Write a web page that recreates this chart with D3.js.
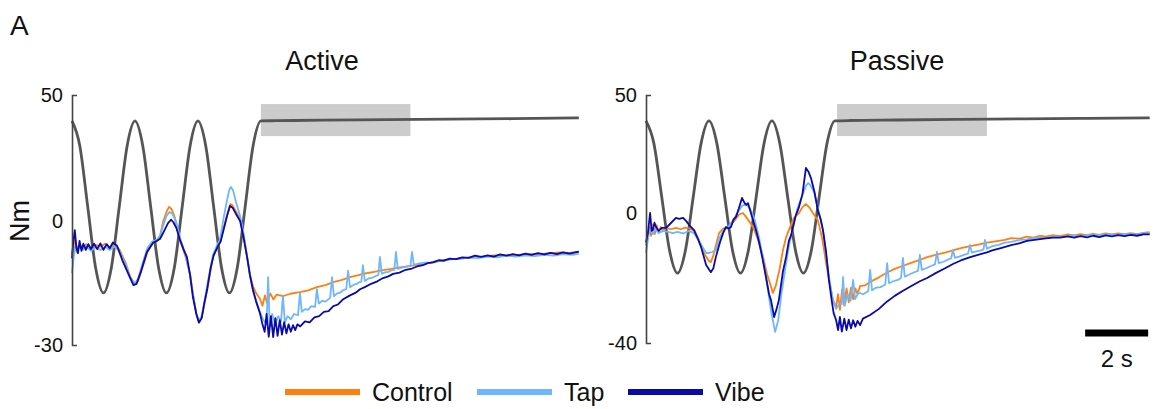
<!DOCTYPE html>
<html>
<head>
<meta charset="utf-8">
<script src="https://cdn.jsdelivr.net/npm/d3@7"></script>
<style>
  body { margin: 0; background: #fff; }
  svg text { font-family: "Liberation Sans", Arial, sans-serif; fill: #111; }
</style>
</head>
<body>
<div id="viz"></div>
<script>
const width = 1153;
const height = 409;

// series names and colours
const seriesNames = ["Control", "Tap", "Vibe"];
const seriesColors = { Control: "#ff800e", Tap: "#6fb6ff", Vibe: "#0a0aa8" };

// tick labels for each panel
const activeTicks = [50, 0, -30];
const passiveTicks = [50, 0, -40];

// shaded hold window [t0, t1, low, high]
const activeWindow = [6.0, 10.75, 33.7, 46.4];
const passiveWindow = [6.07, 10.83, 32.6, 46.2];

// reference (grey) trace, [time s, Nm]
const activeReference = [
  [0,39.7],[0.25,29.7],[0.5,5.6],[0.75,-11.3],[1,-17.4],[1.25,-11.3],[1.5,5.6],[1.75,29.7],
  [2,39.7],[2.25,29.7],[2.5,5.6],[2.75,-11.3],[3,-17.4],[3.25,-11.3],[3.5,5.6],[3.75,29.7],
  [4,39.7],[4.25,29.7],[4.5,5.6],[4.75,-11.3],[5,-17.4],[5.25,-11.3],[5.5,5.6],[5.75,29.7],
  [6,39.7],[6.5,39.8],[8,40],[10,40.2],[12,40.4],[14,40.6],[16.1,40.9]
];
const passiveReference = [
  [0,39.0],[0.25,29.5],[0.5,6.8],[0.75,-11.6],[1,-18.5],[1.25,-11.6],[1.5,6.8],[1.75,29.5],
  [2,39.0],[2.25,29.5],[2.5,6.8],[2.75,-11.6],[3,-18.5],[3.25,-11.6],[3.5,6.8],[3.75,29.5],
  [4,39.0],[4.25,29.5],[4.5,6.8],[4.75,-11.6],[5,-18.5],[5.25,-11.6],[5.5,6.8],[5.75,29.5],
  [6,39.0],[6.5,39.2],[8,39.4],[10,39.7],[12,39.9],[14,40.1],[16.0,40.3]
];

// Active torque traces
const activeControl = [
  [0,-8],[0.05,-6],[0.1,-4.5],[0.15,-6.5],[0.25,-5.8],[0.35,-6.6],[0.45,-5.6],[0.6,-6.4],[0.75,-5.8],
  [0.9,-6.2],[1.05,-5.5],[1.2,-6.4],[1.35,-5.8],[1.5,-6.8],[1.7,-10],[1.85,-13.5],[2.0,-15.3],[2.1,-14.5],
  [2.25,-11],[2.4,-7.5],[2.55,-5.5],[2.7,-4.8],[2.8,-3.5],[2.9,0],[3.0,3.5],[3.08,5.6],[3.15,5.0],
  [3.25,2],[3.35,-2],[3.45,-5],[3.6,-8.5],[3.75,-13],[3.85,-18],[3.95,-22.5],[4.03,-24.3],[4.12,-23.3],
  [4.22,-19.5],[4.32,-15.5],[4.48,-8.7],[4.6,-6.5],[4.7,-5.2],[4.82,-1.5],[4.95,3.5],[5.03,6.7],[5.1,6.2],
  [5.2,4],[5.34,0.8],[5.45,-3.5],[5.56,-8.5],[5.65,-13],[5.75,-15.8],[5.85,-17.5],[5.97,-18.8],[6.05,-20.5],
  [6.13,-18],[6.2,-20],[6.3,-17.5],[6.4,-19],[6.5,-17.8],[6.7,-18.2],[6.93,-17.6],[7.24,-17.2],[7.5,-16.8],
  [7.78,-16],[8.05,-15.5],[8.3,-14.8],[8.55,-14.3],[8.83,-13.6],[9.1,-13.1],[9.3,-12.7],[9.6,-12.3],
  [9.88,-11.9],[10.15,-11.6],[10.4,-11.2],[10.7,-10.9],[10.96,-10.6],[11.2,-10.3],[11.47,-10],[11.75,-9.6],
  [12.0,-9.3],[12.25,-9.1],[12.5,-8.9],[12.8,-8.8],[13.06,-8.6],[13.4,-8.3],[13.7,-8.4],[14.14,-8.2],
  [14.5,-8.0],[14.8,-8.1],[15.18,-7.8],[15.5,-7.6],[15.8,-7.7],[16.1,-7.4]
];
const activeTap = [
  [0,-12.6],[0.05,-9],[0.1,-6],[0.15,-7.5],[0.25,-6.2],[0.35,-7],[0.45,-6],[0.6,-7.2],[0.75,-6.3],
  [0.9,-7],[1.05,-6.2],[1.2,-7],[1.35,-6.2],[1.5,-7.2],[1.7,-10.5],[1.85,-13.8],[2.0,-15],[2.1,-14],
  [2.25,-10],[2.4,-6.5],[2.55,-5],[2.7,-4.5],[2.8,-3.5],[2.9,-1],[3.0,2],[3.1,3.6],[3.18,3.0],[3.3,0],
  [3.43,-4],[3.6,-8],[3.75,-13],[3.85,-18],[3.95,-22.5],[4.03,-24.2],[4.12,-23],[4.22,-19],[4.32,-14.5],
  [4.48,-8.2],[4.6,-6],[4.7,-4.5],[4.82,1.5],[4.92,8],[5.0,12.5],[5.05,13.5],[5.12,12],[5.22,7],[5.34,2],
  [5.45,-3],[5.56,-8.5],[5.65,-13],[5.75,-17],[5.85,-19.5],[5.97,-22],[6.05,-23.5],[6.13,-24.5],
  [6.18,-25],[6.23,-13.6],[6.28,-25.5],[6.36,-22.5],[6.45,-25],[6.55,-23],[6.64,-24.3],[6.7,-18],
  [6.76,-24.5],[6.85,-23],[6.95,-23.8],[7.05,-22.5],[7.18,-22.8],[7.24,-17.4],[7.3,-22],[7.4,-21.3],
  [7.5,-21.5],[7.6,-20.6],[7.72,-20.8],[7.78,-16.5],[7.84,-20],[7.95,-19.3],[8.05,-19.5],[8.2,-18.6],
  [8.26,-13.6],[8.32,-18.2],[8.42,-17.5],[8.52,-17.3],[8.62,-16.7],[8.71,-16.5],[8.77,-12],[8.83,-16],
  [8.95,-15.4],[9.05,-15.2],[9.12,-14.8],[9.19,-14.7],[9.24,-10.7],[9.3,-14.5],[9.42,-13.9],[9.55,-13.7],
  [9.65,-13.3],[9.73,-13.1],[9.78,-8.7],[9.84,-12.8],[9.95,-12.4],[10.05,-12.3],[10.15,-11.9],[10.24,-11.8],
  [10.29,-7.5],[10.35,-11.6],[10.5,-11.2],[10.62,-11.1],[10.75,-10.8],[10.8,-7.5],[10.86,-10.6],[11.0,-10.3],
  [11.2,-10.1],[11.4,-10],[11.6,-9.6],[11.8,-9.7],[12.0,-9.3],[12.3,-9.2],[12.6,-8.8],[12.9,-9.0],
  [13.2,-8.6],[13.5,-8.8],[13.8,-8.4],[14.1,-8.6],[14.4,-8.3],[14.7,-8.5],[15.0,-8.2],[15.3,-8.4],
  [15.6,-8.0],[15.9,-8.2],[16.1,-7.9]
];
const activeVibe = [
  [0,-9],[0.04,-5],[0.09,-2.2],[0.14,-6.5],[0.19,-7.8],[0.24,-4.8],[0.3,-7.2],[0.36,-5.5],[0.44,-7],
  [0.52,-5.6],[0.6,-6.8],[0.7,-5.5],[0.8,-6.8],[0.9,-5.4],[1.0,-7],[1.1,-5.6],[1.2,-6.6],[1.3,-5.2],
  [1.43,-6],[1.6,-9.5],[1.8,-13],[1.95,-15.5],[2.05,-15.2],[2.2,-12],[2.38,-7.5],[2.57,-5.3],[2.7,-4.8],
  [2.8,-4.3],[2.92,-2.5],[3.05,-0.5],[3.15,0.5],[3.22,-0.3],[3.32,-1.8],[3.43,-4.6],[3.55,-7],[3.65,-8.7],
  [3.75,-13],[3.84,-18.4],[3.95,-22.5],[4.03,-24.6],[4.12,-23.5],[4.2,-20],[4.29,-16.7],[4.4,-11.5],
  [4.5,-8.3],[4.62,-6.3],[4.72,-5],[4.82,-2],[4.92,1.8],[5.02,6.0],[5.1,5.3],[5.2,3],[5.34,0],[5.45,-4],
  [5.56,-8.7],[5.65,-13],[5.75,-16.7],[5.85,-19.5],[5.97,-22.3],[6.05,-25],[6.12,-26.8],[6.18,-22.5],
  [6.25,-28],[6.32,-23],[6.39,-28.1],[6.46,-23.5],[6.53,-27.8],[6.6,-24],[6.67,-27.5],[6.74,-24.5],
  [6.81,-27.2],[6.88,-25],[6.95,-26.8],[7.02,-25.2],[7.09,-26.4],[7.16,-25],[7.25,-25.5],[7.4,-24.3],
  [7.55,-24.5],[7.7,-23.3],[7.85,-23],[8.0,-22],[8.15,-21.8],[8.3,-20.6],[8.45,-20.2],[8.6,-19],
  [8.83,-18],[9.0,-17.4],[9.15,-16.5],[9.3,-16],[9.5,-15.2],[9.7,-14.6],[9.88,-13.8],[10.05,-13.4],
  [10.2,-12.8],[10.4,-12.5],[10.6,-11.8],[10.8,-11.5],[10.96,-11],[11.15,-10.7],[11.3,-10.2],[11.47,-10],
  [11.65,-9.5],[11.8,-9.6],[12.0,-9.1],[12.2,-9.2],[12.4,-8.8],[12.6,-8.9],[12.8,-8.4],[13.0,-8.7],
  [13.2,-8.3],[13.4,-8.6],[13.6,-8.1],[13.8,-8.4],[14.0,-8.0],[14.2,-8.3],[14.4,-7.9],[14.6,-8.2],
  [14.8,-7.8],[15.0,-8.1],[15.2,-7.7],[15.4,-8.0],[15.6,-7.6],[15.8,-7.9],[16.1,-7.4]
];

// Passive torque traces
const passiveControl = [
  [0,-10],[0.1,-4.3],[0.16,-7],[0.22,-3.5],[0.28,-6.5],[0.34,-3.8],[0.4,-6],[0.47,-4.3],[0.54,-5.5],
  [0.64,-4.6],[0.8,-5],[0.95,-4.6],[1.1,-5],[1.25,-4.5],[1.4,-4.8],[1.55,-5.5],[1.68,-8.3],[1.85,-12.5],
  [2.0,-14.8],[2.06,-15.1],[2.14,-13],[2.32,-6.2],[2.45,-4.8],[2.64,-4.3],[2.8,-2.5],[2.95,-0.5],[3.08,0],
  [3.2,-1.5],[3.4,-4.3],[3.55,-8],[3.72,-13.5],[3.85,-19],[3.95,-22],[4.03,-24.6],[4.12,-22.5],[4.25,-17],
  [4.35,-11.4],[4.45,-7.5],[4.54,-5.2],[4.7,-1.5],[4.86,0],[4.97,2.5],[5.08,3.8],[5.18,2.5],[5.3,0],
  [5.46,-2.2],[5.6,-8],[5.72,-15.4],[5.82,-21],[5.94,-26.8],[6.04,-28.9],[6.1,-25],[6.16,-29.8],
  [6.23,-23.5],[6.3,-28.5],[6.37,-23.2],[6.44,-27.5],[6.51,-23],[6.58,-26.5],[6.65,-23.2],[6.72,-25],
  [6.8,-22.5],[6.95,-22.3],[7.12,-21.2],[7.4,-19.8],[7.66,-18.3],[7.9,-17.2],[8.15,-16.3],[8.4,-15.4],
  [8.7,-14.4],[8.93,-13.6],[9.2,-12.9],[9.5,-12.2],[9.75,-11.5],[10.0,-10.8],[10.3,-10.2],[10.55,-9.7],
  [10.83,-9.1],[11.1,-8.7],[11.4,-8.3],[11.6,-7.7],[11.88,-7.9],[12.1,-7.3],[12.3,-7.6],[12.5,-7.0],
  [12.7,-7.3],[12.93,-6.8],[13.15,-7.1],[13.4,-6.6],[13.6,-6.9],[13.8,-6.5],[14.0,-6.8],[14.2,-6.4],
  [14.4,-6.7],[14.6,-6.3],[14.8,-6.6],[15.0,-6.3],[15.2,-6.5],[15.4,-6.2],[15.6,-6.5],[15.8,-6.1],[16.0,-5.9]
];
const passiveTap = [
  [0,-12.3],[0.08,-7],[0.15,-4.5],[0.22,-6.5],[0.3,-5],[0.4,-6.2],[0.54,-5.5],[0.7,-5.8],[0.85,-6.2],
  [1.0,-5.8],[1.18,-6.3],[1.37,-5.5],[1.52,-6.2],[1.68,-8.5],[1.8,-10.5],[1.91,-12.3],[2.0,-12.3],
  [2.1,-12],[2.22,-11.5],[2.32,-8],[2.45,-5.5],[2.6,-4.5],[2.75,-2.5],[2.9,0],[3.05,3],[3.18,3.8],[3.3,2],
  [3.45,-2],[3.59,-7.5],[3.72,-14],[3.85,-22],[3.97,-30],[4.1,-36.6],[4.2,-33],[4.3,-25],[4.45,-15.5],
  [4.54,-10],[4.65,-5.5],[4.8,1.5],[4.95,7],[5.08,11.5],[5.15,12.7],[5.22,11.8],[5.35,8.5],[5.46,2],
  [5.55,-2],[5.65,-7],[5.75,-15],[5.85,-22],[5.94,-27],[6.04,-29.5],[6.16,-27.7],[6.22,-28],[6.26,-19.7],
  [6.31,-28.5],[6.4,-25],[6.5,-27],[6.58,-20.6],[6.64,-26.5],[6.75,-24.5],[6.9,-25],[7.06,-24],[7.12,-17.5],
  [7.18,-23.8],[7.3,-23],[7.45,-22.8],[7.6,-22],[7.66,-15.4],[7.72,-21.6],[7.85,-21],[8.0,-20.6],[8.1,-20],
  [8.16,-13.8],[8.22,-19.6],[8.35,-19],[8.5,-18.3],[8.64,-17.8],[8.7,-12.9],[8.76,-17.5],[8.9,-17],
  [9.05,-16.3],[9.18,-15.8],[9.24,-12.0],[9.3,-15.4],[9.45,-15],[9.6,-14.3],[9.69,-14],[9.75,-11.4],
  [9.81,-13.8],[9.95,-13.4],[10.1,-12.9],[10.23,-12.5],[10.29,-9.8],[10.35,-12.2],[10.5,-11.8],
  [10.65,-11.5],[10.72,-11.2],[10.77,-8.3],[10.83,-11],[11.0,-10.2],[11.2,-9.8],[11.4,-9.1],[11.6,-8.9],
  [11.88,-8.3],[12.1,-8.1],[12.4,-7.6],[12.7,-7.7],[12.93,-7.2],[13.2,-7.4],[13.5,-6.9],[13.8,-7.1],
  [14.1,-6.7],[14.4,-6.9],[14.7,-6.5],[15.0,-6.7],[15.3,-6.4],[15.6,-6.6],[15.8,-6.3],[16.0,-6.2]
];
const passiveVibe = [
  [0,-9],[0.06,-6.2],[0.13,0],[0.18,-5.5],[0.22,-5.2],[0.27,-3],[0.32,-4.3],[0.4,-5.5],[0.5,-4.6],
  [0.64,-4.6],[0.8,-3],[0.95,-1.5],[1.05,-1.8],[1.18,-1.5],[1.28,-2.5],[1.37,-3.7],[1.52,-5.2],[1.65,-8],
  [1.75,-10.5],[1.91,-16],[2.06,-18.2],[2.14,-17],[2.22,-13.5],[2.35,-9],[2.45,-6.2],[2.54,-4.3],
  [2.62,-4.8],[2.70,-4.3],[2.78,-2],[2.86,-1.2],[2.95,2],[3.05,6.4],[3.12,4.5],[3.18,3.4],[3.24,4.2],
  [3.3,1.5],[3.40,-2.2],[3.5,-5.5],[3.59,-8.9],[3.7,-14],[3.81,-19.7],[3.91,-25],[3.97,-26.8],[4.07,-32],
  [4.15,-29.5],[4.22,-26.8],[4.35,-18],[4.45,-13.5],[4.54,-8.5],[4.61,-6.8],[4.75,-1],[4.86,2.5],
  [4.97,8],[5.08,19.1],[5.16,17.5],[5.24,14.8],[5.35,9],[5.46,1],[5.55,-2],[5.62,-5.2],[5.72,-12],
  [5.81,-20.6],[5.9,-27],[5.96,-30.8],[6.04,-33],[6.1,-36],[6.16,-32],[6.22,-36.5],[6.3,-32.5],
  [6.37,-36],[6.44,-32.8],[6.51,-35.5],[6.58,-33],[6.65,-35],[6.72,-33.2],[6.8,-34.5],[6.89,-32.5],
  [7.12,-31.4],[7.4,-29.5],[7.66,-27.2],[7.9,-25.5],[8.15,-24],[8.4,-22.6],[8.7,-21],[8.93,-20],
  [9.2,-18.5],[9.5,-17],[9.75,-15.7],[10.0,-14.6],[10.3,-13.6],[10.6,-12.7],[10.83,-12.1],[11.0,-11.5],
  [11.3,-10.7],[11.6,-9.9],[11.88,-9.3],[12.1,-8.6],[12.4,-8.2],[12.7,-7.8],[12.93,-7.6],[13.15,-7.6],
  [13.4,-7.2],[13.6,-7.6],[13.8,-7.1],[14.01,-7.5],[14.2,-7.0],[14.4,-7.4],[14.6,-6.9],[14.8,-7.2],
  [15.0,-6.8],[15.2,-7.1],[15.4,-6.7],[15.6,-7.0],[15.8,-6.6],[16.0,-6.6]
];

const panels = [
  {
    title: "Active", titleX: 322,
    x: d3.scaleLinear().domain([0, 16.2]).range([72, 582]),
    y: d3.scaleLinear().domain([-30, 0, 50]).range([345, 221, 95]),
    ticks: activeTicks, hold: activeWindow, reference: activeReference,
    traces: { Control: activeControl, Tap: activeTap, Vibe: activeVibe }
  },
  {
    title: "Passive", titleX: 897,
    x: d3.scaleLinear().domain([0, 16.2]).range([646, 1156]),
    y: d3.scaleLinear().domain([-40, 0, 50]).range([343, 213, 95]),
    ticks: passiveTicks, hold: passiveWindow, reference: passiveReference,
    traces: { Control: passiveControl, Tap: passiveTap, Vibe: passiveVibe }
  }
];

const svg = d3.select("#viz")
  .append("svg")
  .attr("width", width)
  .attr("height", height);

svg.append("text")
  .attr("x", 10).attr("y", 35)
  .style("font-size", "28px")
  .text("A");

svg.append("text")
  .attr("transform", "translate(29,221) rotate(-90)")
  .attr("text-anchor", "middle")
  .style("font-size", "27px")
  .text("Nm");

for (const p of panels) {
  const g = svg.append("g");

  g.append("text")
    .attr("x", p.titleX).attr("y", 70)
    .attr("text-anchor", "middle")
    .style("font-size", "27px")
    .text(p.title);

  // hold window
  g.append("rect")
    .attr("x", p.x(p.hold[0]))
    .attr("width", p.x(p.hold[1]) - p.x(p.hold[0]))
    .attr("y", p.y(p.hold[3]))
    .attr("height", p.y(p.hold[2]) - p.y(p.hold[3]))
    .attr("fill", "#cccccc");

  const line = d3.line()
    .x(d => p.x(d[0]))
    .y(d => p.y(d[1]));

  g.append("path")
    .datum(p.reference)
    .attr("d", line.curve(d3.curveMonotoneX))
    .attr("fill", "none")
    .attr("stroke", "#555")
    .attr("stroke-width", 2.8);

  line.curve(d3.curveLinear);
  for (const name of seriesNames) {
    g.append("path")
      .datum(p.traces[name])
      .attr("d", line)
      .attr("fill", "none")
      .attr("stroke", seriesColors[name])
      .attr("stroke-width", 1.8)
      .attr("stroke-linejoin", "round");
  }

  const axis = d3.axisLeft(p.y)
    .tickValues(p.ticks)
    .tickSizeInner(0)
    .tickSizeOuter(-5)
    .tickPadding(9)
    .tickFormat(d => String(d));

  const ag = g.append("g")
    .attr("transform", `translate(${p.x(0)},0)`)
    .call(axis);
  ag.select(".domain").attr("stroke", "#444").attr("stroke-width", 1.6);
  ag.selectAll("text")
    .style("font-size", "20px")
    .attr("fill", "#111");
}

// scale bar, 2 s on the passive time axis
const px = panels[1].x;
svg.append("line")
  .attr("x1", px(13.95)).attr("x2", px(15.95))
  .attr("y1", 333).attr("y2", 333)
  .attr("stroke", "#000")
  .attr("stroke-width", 7);
svg.append("text")
  .attr("x", (px(13.95) + px(15.95)) / 2).attr("y", 367)
  .attr("text-anchor", "middle")
  .style("font-size", "24px")
  .text("2 s");

// legend
const legendX = [285, 477, 628];
const legend = svg.append("g");
seriesNames.forEach((name, i) => {
  legend.append("line")
    .attr("x1", legendX[i]).attr("x2", legendX[i] + 75)
    .attr("y1", 392).attr("y2", 392)
    .attr("stroke", seriesColors[name])
    .attr("stroke-width", 6);
  legend.append("text")
    .attr("x", legendX[i] + 87).attr("y", 401)
    .style("font-size", "25px")
    .text(name);
});
</script>
</body>
</html>
